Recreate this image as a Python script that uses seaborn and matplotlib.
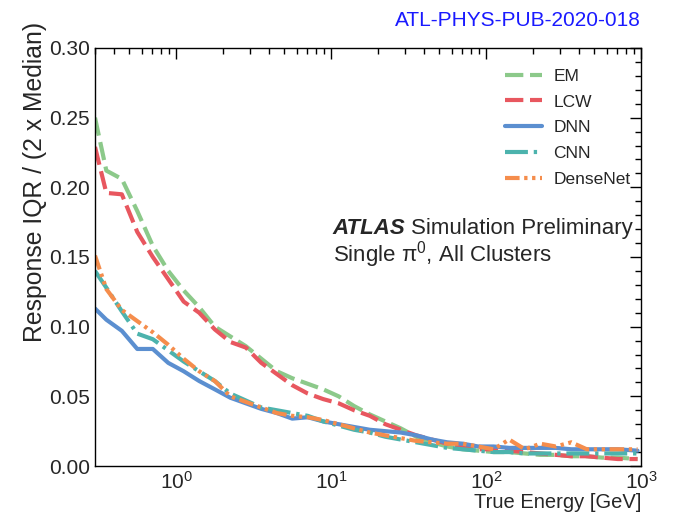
import numpy as np
import pandas as pd
import matplotlib
matplotlib.use("Agg")
import matplotlib.pyplot as plt
import seaborn as sns
from matplotlib.ticker import MultipleLocator, LogLocator, NullFormatter

# ---- data ----
energy = [0.3, 0.355, 0.447, 0.562, 0.708, 0.891, 1.12, 1.41, 1.78, 2.24, 2.82, 3.55,
          4.47, 5.62, 7.08, 8.91, 11.2, 14.1, 17.8, 22.4, 28.2, 35.5, 44.7, 56.2,
          70.8, 89.1, 112, 141, 178, 224, 282, 355, 447, 562, 708, 950]

em = [0.250, 0.212, 0.206, 0.183, 0.158, 0.140, 0.126, 0.114, 0.100, 0.093, 0.086, 0.077,
      0.068, 0.063, 0.059, 0.055, 0.050, 0.043, 0.037, 0.032, 0.027, 0.021, 0.017, 0.014,
      0.012, 0.011, 0.010, 0.010, 0.009, 0.008, 0.008, 0.007, 0.007, 0.006, 0.006, 0.005]

lcw = [0.229, 0.196, 0.195, 0.168, 0.150, 0.134, 0.118, 0.110, 0.098, 0.089, 0.085, 0.074,
       0.066, 0.058, 0.052, 0.048, 0.045, 0.040, 0.036, 0.030, 0.026, 0.022, 0.019, 0.016,
       0.014, 0.012, 0.012, 0.011, 0.010, 0.009, 0.008, 0.007, 0.007, 0.006, 0.005, 0.005]

dnn = [0.113, 0.105, 0.097, 0.084, 0.084, 0.074, 0.068, 0.061, 0.055, 0.049, 0.045, 0.041,
       0.038, 0.034, 0.035, 0.032, 0.030, 0.028, 0.026, 0.025, 0.024, 0.022, 0.019, 0.017,
       0.016, 0.014, 0.014, 0.013, 0.013, 0.013, 0.013, 0.012, 0.012, 0.012, 0.012, 0.011]

cnn = [0.140, 0.128, 0.111, 0.095, 0.091, 0.083, 0.075, 0.068, 0.061, 0.052, 0.047, 0.042,
       0.040, 0.038, 0.036, 0.032, 0.029, 0.026, 0.024, 0.021, 0.019, 0.017, 0.015, 0.013,
       0.012, 0.011, 0.010, 0.010, 0.009, 0.009, 0.009, 0.009, 0.009, 0.009, 0.009, 0.009]

densenet = [0.151, 0.127, 0.112, 0.104, 0.096, 0.087, 0.077, 0.068, 0.061, 0.050, 0.046, 0.042,
            0.038, 0.036, 0.035, 0.033, 0.030, 0.027, 0.024, 0.022, 0.020, 0.018, 0.017, 0.016,
            0.016, 0.014, 0.012, 0.019, 0.012, 0.016, 0.014, 0.017, 0.012, 0.012, 0.012, 0.012]

labels = ["EM", "LCW", "DNN", "CNN", "DenseNet"]
series = [em, lcw, dnn, cnn, densenet]

colors = {"EM": "#8cc98a", "LCW": "#e8575f", "DNN": "#5b8fd0",
          "CNN": "#4cb3ad", "DenseNet": "#f58d4c"}
styles = {"EM": (0, (4.4, 1.6)),
          "LCW": (0, (4.4, 1.6)),
          "DNN": "-",
          "CNN": (0, (5.5, 1.4, 0.8, 1.4)),
          "DenseNet": (0, (3.5, 1.1, 0.8, 1.1, 0.8, 1.1))}

sns.set_theme(style="white")
plt.rcParams["font.family"] = ["Liberation Sans", "DejaVu Sans"]
plt.rcParams["mathtext.fontset"] = "custom"
plt.rcParams["mathtext.rm"] = "Liberation Sans"
plt.rcParams["mathtext.it"] = "Liberation Sans:italic"

fig = plt.figure(figsize=(6.73, 5.18), dpi=100)
ax = fig.add_axes([95 / 673, 52 / 518, 546 / 673, 418 / 518])

for name, vals in zip(labels, series):
    df = pd.DataFrame({"E": energy, "v": vals})
    sns.lineplot(data=df, x="E", y="v", ax=ax, color=colors[name], label=name,
                 linewidth=3, linestyle=styles[name], estimator=None)

ax.set_xscale("log")
ax.set_xlim(0.3, 1000)
ax.set_ylim(0, 0.30)
ax.yaxis.set_major_locator(MultipleLocator(0.05))
ax.yaxis.set_minor_locator(MultipleLocator(0.01))
ax.yaxis.set_major_formatter(matplotlib.ticker.FormatStrFormatter("%.2f"))
ax.xaxis.set_major_locator(LogLocator(base=10, numticks=10))
ax.xaxis.set_minor_locator(LogLocator(base=10, subs=np.arange(2, 10), numticks=20))
ax.xaxis.set_minor_formatter(NullFormatter())

ax.tick_params(which="both", direction="in", top=True, right=True, labelsize=15,
               color="black", width=1)
ax.tick_params(which="major", length=8)
ax.tick_params(which="minor", length=4)
for s in ax.spines.values():
    s.set_color("black")
    s.set_linewidth(1)

ax.set_xlabel("True Energy [GeV]", fontsize=14.5, ha="right")
ax.xaxis.set_label_coords(1.0, -0.065)
ax.set_ylabel("Response IQR / (2 x Median)", fontsize=17.8, ha="right")
ax.yaxis.set_label_coords(-0.088, (466 - 22) / 418)

leg = ax.legend(loc="upper right", frameon=False, fontsize=12.5, handlelength=2.1,
                handletextpad=0.65, bbox_to_anchor=(1.009, 0.988), labelspacing=0.61,
                borderpad=0.4)

t1 = ax.text(0.435, 0.555, "ATLAS", transform=ax.transAxes, fontsize=16,
             fontweight="bold", fontstyle="italic", ha="left", va="baseline")
fig.canvas.draw()
bb = t1.get_window_extent().transformed(ax.transAxes.inverted())
ax.text(bb.x1 + 0.010, 0.555, "Simulation Preliminary", transform=ax.transAxes,
        fontsize=16, ha="left", va="baseline")
ax.text(0.435, 0.490, "Single π$^{0}$, All Clusters", transform=ax.transAxes,
        fontsize=16, ha="left", va="baseline")

fig.text(641 / 673, 1 - 20 / 518, "ATL-PHYS-PUB-2020-018", color="#1a1aff",
         fontsize=15, ha="right", va="center")

fig.savefig("out.png", dpi=100)
